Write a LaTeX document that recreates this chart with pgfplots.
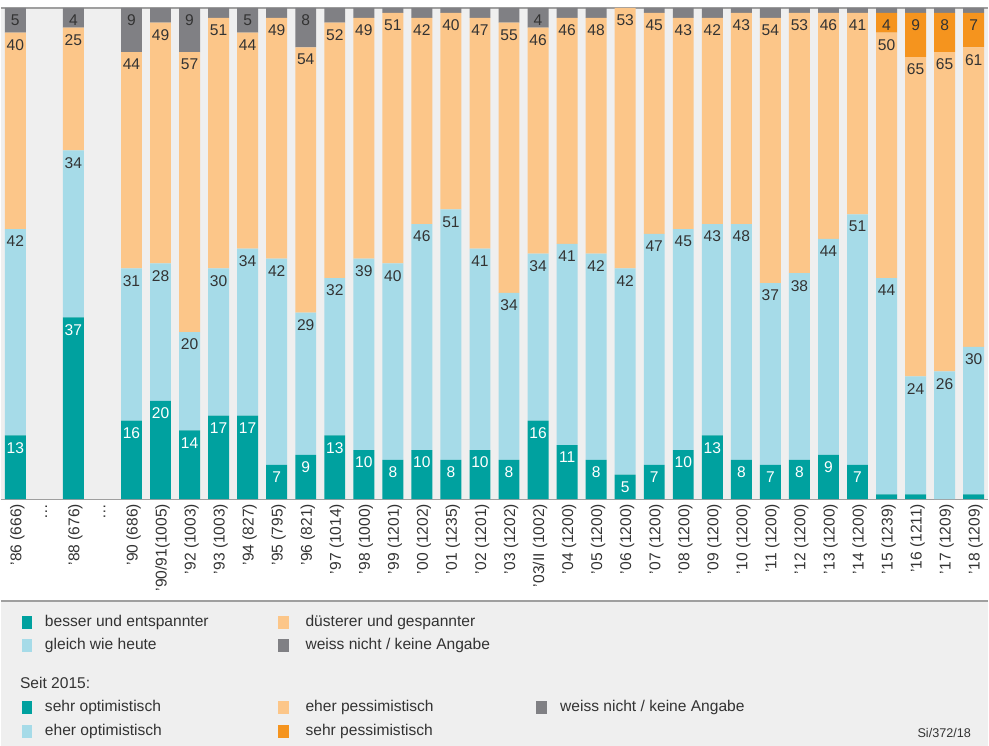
\documentclass[border=0pt]{standalone}
\usepackage{pgfplots}
\pgfplotsset{compat=1.18}
\usepackage{pgfplotstable}
\usepackage{fontspec}
\setmainfont{Liberation Sans}

\definecolor{cTeal}{HTML}{00A19F}
\definecolor{cLight}{HTML}{A6DBE8}
\definecolor{cPale}{HTML}{FCC689}
\definecolor{cOrange}{HTML}{F5941E}
\definecolor{cGray}{HTML}{808084}
\definecolor{cBg}{HTML}{EFEFEF}
\definecolor{cText}{HTML}{333333}

\newcommand\lbl{\fontsize{11.7}{14}\selectfont}

% a: besser / sehr optimistisch, b: gleich / eher optimistisch,
% c: duesterer / eher pessimistisch, d: sehr pessimistisch, e: weiss nicht
\pgfplotstableread{
x  a  b  c  d  e  la lb lc ld le
0  13 42 40 0  5  13 42 40 {} 5
2  37 34 25 0  4  37 34 25 {} 4
4  16 31 44 0  9  16 31 44 {} 9
5  20 28 49 0  3  20 28 49 {} {}
6  14 20 57 0  9  14 20 57 {} 9
7  17 30 51 0  2  17 30 51 {} {}
8  17 34 44 0  5  17 34 44 {} 5
9  7  42 49 0  2  7  42 49 {} {}
10 9  29 54 0  8  9  29 54 {} 8
11 13 32 52 0  3  13 32 52 {} {}
12 10 39 49 0  2  10 39 49 {} {}
13 8  40 51 0  1  8  40 51 {} {}
14 10 46 42 0  2  10 46 42 {} {}
15 8  51 40 0  1  8  51 40 {} {}
16 10 41 47 0  2  10 41 47 {} {}
17 8  34 55 0  3  8  34 55 {} {}
18 16 34 46 0  4  16 34 46 {} 4
19 11 41 46 0  2  11 41 46 {} {}
20 8  42 48 0  2  8  42 48 {} {}
21 5  42 53 0  0  5  42 53 {} {}
22 7  47 45 0  1  7  47 45 {} {}
23 10 45 43 0  2  10 45 43 {} {}
24 13 43 42 0  2  13 43 42 {} {}
25 8  48 43 0  1  8  48 43 {} {}
26 7  37 54 0  2  7  37 54 {} {}
27 8  38 53 0  1  8  38 53 {} {}
28 9  44 46 0  1  9  44 46 {} {}
29 7  51 41 0  1  7  51 41 {} {}
30 1  44 50 4  1  {} 44 50 4  {}
31 1  24 65 9  1  {} 24 65 9  {}
32 0  26 65 8  1  {} 26 65 8  {}
33 1  30 61 7  1  {} 30 61 7  {}
}\survey

\begin{document}
\begin{tikzpicture}[x=0.75pt,y=0.75pt]
\fill[white] (0,0) rectangle (989,747);
\fill[cBg] (0,0) rectangle (989,145);
\draw[gray!75, line width=0.9pt] (0,145) -- (989,145);
\begin{axis}[
  at={(0pt,185.25pt)}, anchor=south west,
  scale only axis, width=741.75pt, height=369pt,
  ybar stacked, bar width=0.72,
  xmin=-0.5, xmax=33.5, ymin=0, ymax=100,
  axis x line=bottom, axis y line=none,
  x axis line style={draw=gray!75, line width=0.9pt, -},
  axis background/.style={fill=cBg},
  xtick={0,...,33},
  xticklabels={’86 (666), \ldots, ’88 (676), \ldots, ’90 (686), ’90/91(1005), ’92 (1003), ’93 (1003), ’94 (827), ’95 (795), ’96 (821), ’97 (1014), ’98 (1000), ’99 (1201), ’00 (1202), ’01 (1235), ’02 (1201), ’03 (1202), ’03/II (1002), ’04 (1200), ’05 (1200), ’06 (1200), ’07 (1200), ’08 (1200), ’09 (1200), ’10 (1200), ’11 (1200), ’12 (1200), ’13 (1200), ’14 (1200), ’15 (1239), ’16 (1211), ’17 (1209), ’18 (1209)},
  major tick length=0pt,
  xticklabel style={rotate=90, anchor=east, font=\lbl, text=cText, yshift=-1.5pt},
  ytick=\empty,
  point meta=explicit symbolic,
  nodes near coords,
  % labels sit just below the top of their segment (pgfplots centres them)
  visualization depends on={rawy \as \segh},
  every node near coord/.append style={anchor=north, font=\lbl, text=cText,
    inner sep=5pt, yshift={\segh*1.845pt}},
  clip=false,
]
\addplot[fill=cTeal, draw=none, every node near coord/.append style={text=white}]
  table[x=x, y=a, meta=la] {\survey};
\addplot[fill=cLight, draw=none] table[x=x, y=b, meta=lb] {\survey};
\addplot[fill=cPale, draw=none] table[x=x, y=c, meta=lc] {\survey};
\addplot[fill=cOrange, draw=none] table[x=x, y=d, meta=ld] {\survey};
\addplot[fill=cGray, draw=none] table[x=x, y=e, meta=le] {\survey};
\draw[gray!75, line width=0.9pt] (rel axis cs:0,1) -- (rel axis cs:1,1);
\end{axis}

% legend
\begin{scope}[every node/.style={anchor=mid west, inner sep=0pt, font=\lbl, text=cText}]
\fill[cTeal]   (21,117) rectangle (31,130);
\node at (44,123) {besser und entspannter};
\fill[cLight]  (21,94) rectangle (31,107);
\node at (44,100) {gleich wie heute};
\fill[cPale]   (278,117) rectangle (289,130);
\node at (305,123) {düsterer und gespannter};
\fill[cGray]   (278,94) rectangle (289,107);
\node at (305,100) {weiss nicht / keine Angabe};
\node at (19,61) {Seit 2015:};
\fill[cTeal]   (21,32) rectangle (31,45);
\node at (44,38) {sehr optimistisch};
\fill[cLight]  (21,8) rectangle (31,21);
\node at (44,14) {eher optimistisch};
\fill[cPale]   (278,32) rectangle (289,45);
\node at (305,38) {eher pessimistisch};
\fill[cOrange] (278,8) rectangle (289,21);
\node at (305,14) {sehr pessimistisch};
\fill[cGray]   (536,32) rectangle (547,45);
\node at (560,38) {weiss nicht / keine Angabe};
\node[anchor=mid east, font=\fontsize{9.5}{11}\selectfont] at (972,12) {Si/372/18};
\end{scope}
\end{tikzpicture}
\end{document}
